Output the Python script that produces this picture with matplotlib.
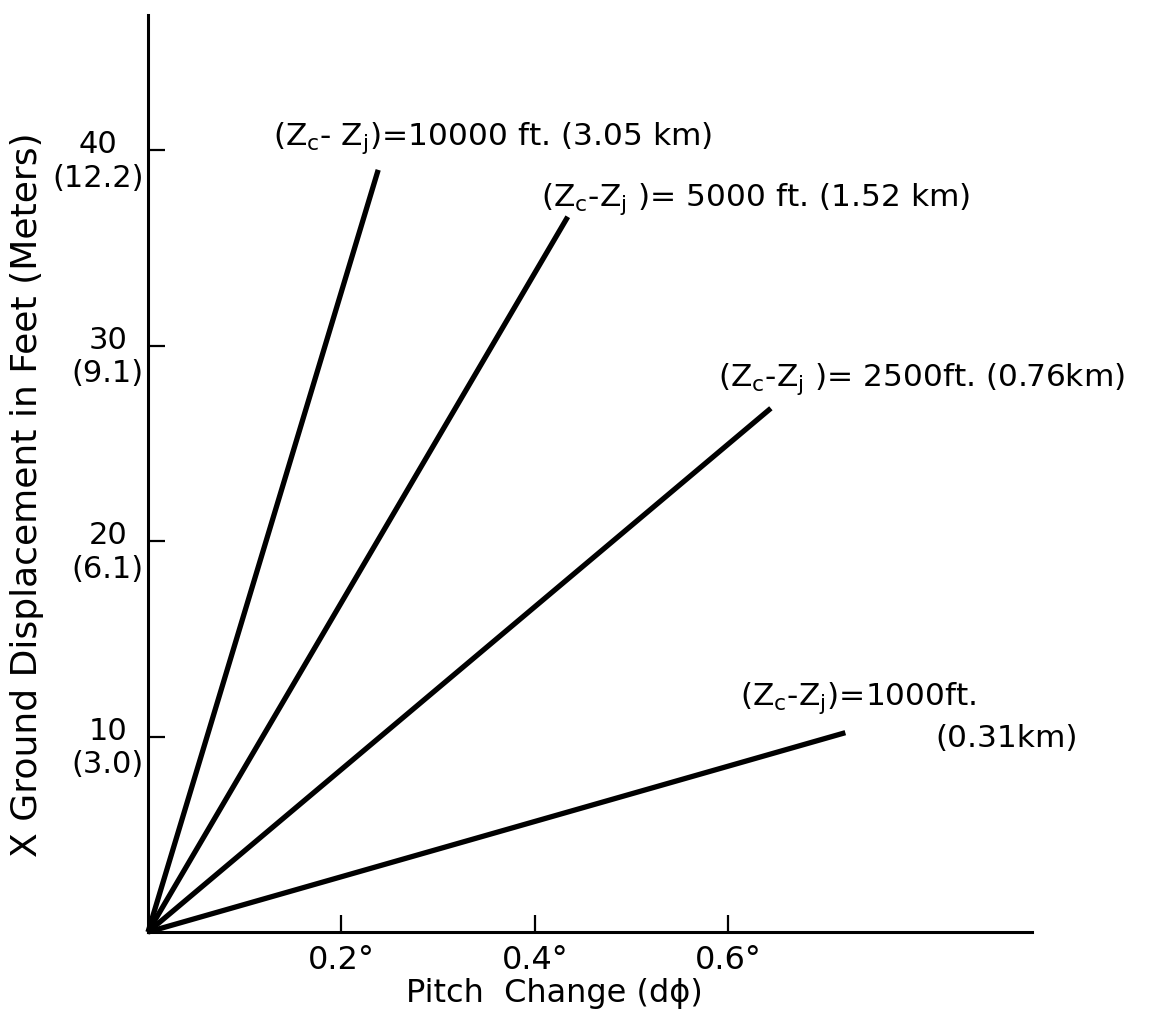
import matplotlib.pyplot as plt
from matplotlib.transforms import ScaledTranslation

plt.rcParams["font.family"] = ["DejaVu Sans"]
plt.rcParams["mathtext.default"] = "regular"

# ground displacement (ft) vs pitch change (deg), one line per height difference
heights_ft = [10000, 5000, 2500, 1000]
pitch_end = [0.238, 0.434, 0.644, 0.721]
disp_end = [39.0, 36.6, 26.8, 10.2]

line_labels = [
    r"(Z$_{c}$- Z$_{j}$)=10000 ft. (3.05 km)",
    r"(Z$_{c}$-Z$_{j}$ )= 5000 ft. (1.52 km)",
    r"(Z$_{c}$-Z$_{j}$ )= 2500ft. (0.76km)",
    r"(Z$_{c}$-Z$_{j}$)=1000ft.",
]
label_x = [0.129, 0.406, 0.589, 0.612]
label_y = [40.3, 37.15, 27.95, 11.6]

x_ticks = [0.2, 0.4, 0.6]
x_ticklabels = ["0.2°", "0.4°", "0.6°"]
y_ticks = [10, 20, 30, 40]
y_ticklabels = ["10\n(3.0)", "20\n(6.1)", "30\n(9.1)", "40\n(12.2)"]

fig = plt.figure(figsize=(11.51, 10.31), dpi=100)
ax = fig.add_axes([0.1286, 0.096, 0.768, 0.889])

for xe, ye in zip(pitch_end, disp_end):
    ax.plot([0, xe], [0, ye], color="black", linewidth=3.8,
            solid_capstyle="butt", clip_on=False)

for txt, tx, ty in zip(line_labels, label_x, label_y):
    ax.text(tx, ty, txt, fontsize=22.5, ha="left", va="baseline")
ax.text(0.814, 9.45, "(0.31km)", fontsize=22.5, ha="left", va="baseline")

ax.set_xlim(0, 0.914)
ax.set_ylim(0, 46.9)

for side in ("top", "right"):
    ax.spines[side].set_visible(False)
for side in ("left", "bottom"):
    ax.spines[side].set_linewidth(2.2)

ax.set_xticks(x_ticks)
ax.set_xticklabels(x_ticklabels, fontsize=23)
ax.set_yticks(y_ticks)
ax.set_yticklabels(y_ticklabels, fontsize=22)
ax.tick_params(direction="in", length=12, width=1.6, pad=9)
ax.tick_params(axis="y", pad=3)

# tick sits between the feet and metre lines
shift = ScaledTranslation(0, -6 / 100, fig.dpi_scale_trans)
for lab in ax.get_yticklabels():
    lab.set_multialignment("center")
    lab.set_transform(lab.get_transform() + shift)

ax.set_xlabel("Pitch  Change (dϕ)", fontsize=23)
ax.xaxis.set_label_coords(0.46, -0.05)
ax.set_ylabel("X Ground Displacement in Feet (Meters)", fontsize=26)
ax.yaxis.set_label_coords(-0.118, 0.477)

fig.savefig("out.png", dpi=100, facecolor="white")
